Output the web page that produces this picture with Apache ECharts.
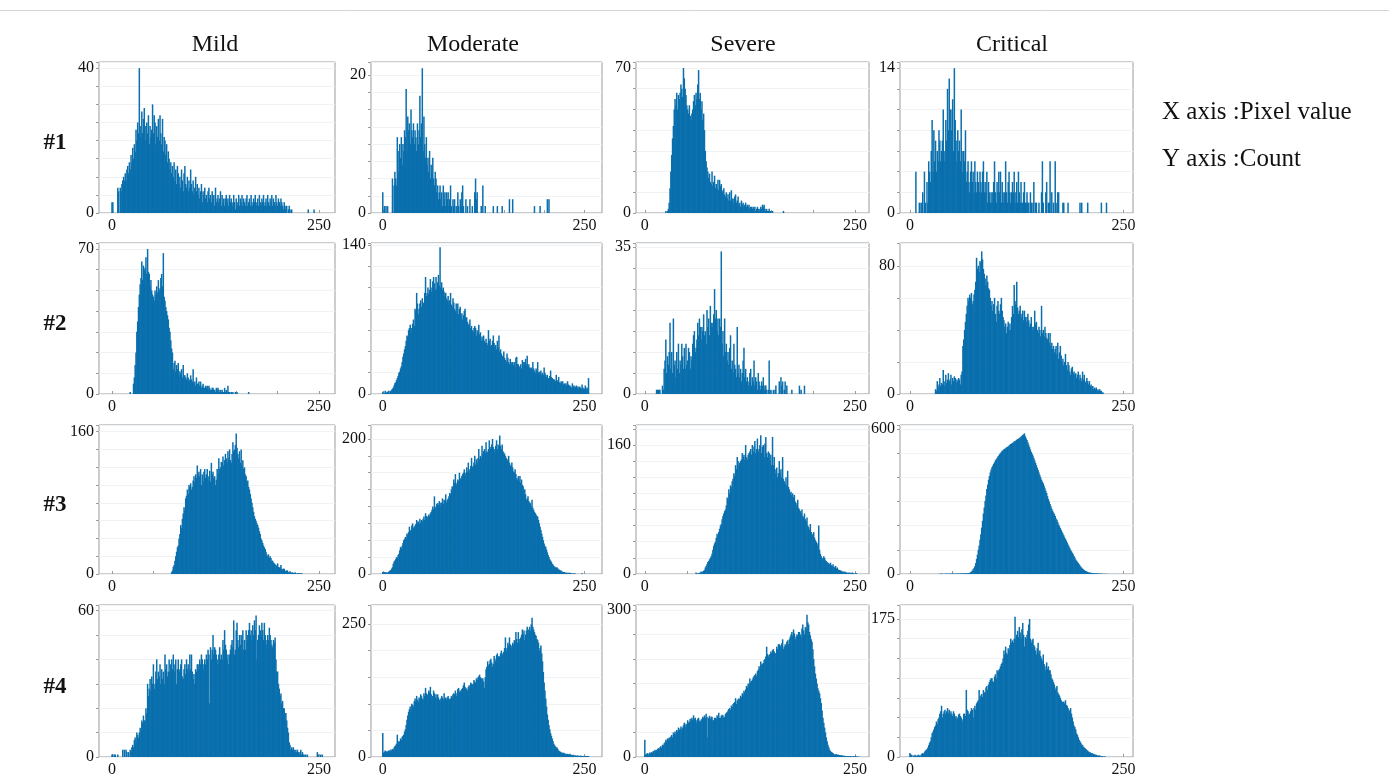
<!DOCTYPE html>
<html><head><meta charset="utf-8">
<script src="https://cdn.jsdelivr.net/npm/echarts@6/dist/echarts.min.js"></script>
<style>html,body{margin:0;padding:0;background:#fff}#c{width:1389px;height:778px}</style>
</head><body><div id="c"></div>
<script>
const columnTitles = ['Mild', 'Moderate', 'Severe', 'Critical'];
const rowLabels = ['#1', '#2', '#3', '#4'];
const axisNotes = ['X axis :Pixel value', 'Y axis :Count'];
const xTickLabels = [0, 250];
const xTickMarks = [0, 50, 100, 150, 200, 250];
const yTopLabels = [[40, 20, 70, 14], [70, 140, 35, 80], [160, 200, 160, 600], [60, 250, 300, 175]];
const yMaxima = [[41.7, 21.9, 72.9, 14.6], [72.9, 141.9, 36, 94.2], [167.5, 220.7, 184.8, 616.6], [62.3, 286, 310, 192.8]];
const yTickSteps = [[5, 2.5, 10, 2], [10, 20, 5, 20], [20, 25, 20, 100], [10, 50, 50, 25]];

// histogram counts, bin 0..255 (bins past the end of an array are empty)
const mild1 = [3,3,0,0,0,0,0,7, 6,0,7,6,8,9,10,9, 11,9,12,13,11,14,12,16, 14,18,15,19,17,23,20,25,
22,40,24,21,28,22,26,29, 24,20,25,22,27,19,24,21, 23,30,22,27,25,19,24,21, 26,20,27,22,19,26,17,21,
20,16,19,14,17,15,12,14, 11,13,10,14,9,12,8,13, 11,8,10,7,12,9,6,11, 13,8,7,10,6,9,7,12,
8,6,9,5,7,10,6,8, 5,7,4,6,8,3,6,5, 7,4,5,3,6,7,4,5, 3,6,4,5,2,7,3,4,
5,3,4,6,2,5,3,4, 2,4,5,3,4,2,5,3, 4,3,2,5,3,1,4,2, 3,5,2,4,3,5,2,4,
3,2,4,5,2,3,4,2, 5,3,2,4,3,5,2,3, 4,2,5,3,2,4,3,5, 2,3,4,2,5,3,2,4,
3,5,2,4,3,2,5,3, 2,4,3,2,4,3,2,1, 3,2,1,2,0,1,2,1, 0,1,0,0,0,0,0,0,
0,0,0,0,0,0,0,0, 0,0,0,0,0,1,0,0, 0,0,0,0,1];
const moderate1 = [3,0,1,0,1,0,1,0, 0,0,0,0,5,0,4,6, 5,4,11,6,9,10,8,11, 7,10,9,12,11,18,9,14,
12,13,10,15,12,11,13,10, 12,11,9,13,10,12,17,11, 13,21,9,14,10,8,11,7, 8,6,9,5,7,6,8,5,
4,6,5,3,4,2,3,4, 2,3,1,4,2,3,1,3, 2,3,1,2,4,1,0,2, 1,2,0,1,0,3,1,0,
2,1,3,4,1,0,0,2, 0,1,0,0,2,0,0,1, 0,0,3,5,2,3,0,0, 0,0,1,0,4,0,0,1,
0,0,0,0,0,0,0,0, 0,1,0,0,0,0,1,0, 0,0,0,0,1,0,0,0, 0,0,0,0,0,2,0,0,
0,2,0,0,0,0,0,0, 0,0,0,0,0,0,0,0, 0,0,0,0,0,0,0,0, 0,0,0,0,1,0,0,0,
0,0,0,1,0,0,0,0, 0,0,0,0,2,0,2];
const severe1 = [0,0,0,0,0,0,0,0, 0,0,0,0,0,0,0,0, 0,0,0,0,0,0,0,0, 0,1,0,1,2,5,12,20,
28,36,42,50,55,52,58,50, 57,55,58,62,60,56,70,65, 60,57,52,50,48,52,47,45, 48,50,54,57,52,58,55,62,
69,55,58,50,54,45,48,40, 30,25,22,20,17,19,15,14, 20,13,15,18,12,14,12,16, 11,16,13,14,10,11,12,9,
8,10,7,9,6,10,6,11, 7,5,7,8,9,5,6,8, 4,5,3,6,4,5,3,4, 5,3,4,3,4,2,3,3,
2,3,2,3,1,2,3,2, 1,2,3,2,4,3,4,2, 1,2,1,1,2,1,1,0, 1,0,0,0,0,0,0,0,
0,0,0,0,0,1];
const critical1 = [0,0,0,0,0,0,0,4, 0,0,0,1,0,1,1,2, 0,4,1,0,3,1,5,4, 3,6,9,4,8,5,7,4,
6,5,8,7,5,6,7,10, 6,5,9,7,12,8,13,10, 10,8,11,6,14,9,7,5, 8,6,7,5,10,6,4,6,
5,8,3,4,5,3,2,4, 5,3,4,2,5,3,2,4, 3,2,4,3,2,4,5,2, 3,2,4,1,3,2,1,2,
1,2,3,5,2,1,3,2, 4,2,4,1,3,2,1,2, 5,2,1,3,4,2,1,2, 3,2,4,1,2,3,1,4,
2,1,3,1,1,2,3,1, 1,2,1,1,0,2,1,0, 1,3,0,1,1,0,0,1, 0,0,2,5,1,0,0,2,
3,0,1,1,5,0,2,0, 1,0,5,1,0,2,2,0, 0,0,0,1,1,0,0,0, 0,1,0,0,0,0,0,0,
0,0,0,0,0,0,0,1, 0,1,0,0,0,0,0,0, 1,0,0,0,0,0,0,0, 0,0,0,0,0,0,0,0,
1,0,0,0,0,0,1];

const mild2 = [0,0,0,0,0,0,0,0, 0,0,0,0,0,0,0,0, 0,0,0,0,0,0,1,0, 0,0,5,8,14,20,30,35,
42,48,53,56,64,55,62,60, 61,66,58,70,59,58,52,55, 50,48,47,45,50,48,52,49, 55,50,51,56,58,52,68,47,
45,42,40,38,36,32,30,26, 22,20,12,15,16,11,14,12, 15,9,11,10,12,8,14,9, 9,8,7,10,8,6,7,9,
7,6,12,5,6,4,8,5, 5,6,4,6,3,4,5,3, 3,4,3,4,2,4,3,2, 2,3,3,2,2,1,3,2,
3,2,1,2,1,2,1,1, 3,1,2,1,4,1,1,0, 1,0,1,0,0,1,0,1, 0,0,0,0,0,0,0,0,
0,0,0,0,0,1];
const moderate2 = [2,0,1,3,2,1,2,3, 1,3,2,4,5,6,8,10, 11,13,15,17,20,21,24,26, 30,35,38,42,45,50,55,54,
60,62,65,58,62,66,70,64, 80,78,95,85,75,80,85,88, 82,90,86,85,95,110,92,95, 100,94,98,108,96,100,106,110,
104,98,110,99,105,112,102,138, 100,105,98,100,96,92,95,90, 88,92,86,88,95,84,82,90, 86,80,78,85,76,85,75,80,
82,72,76,70,74,78,80,72, 72,68,65,66,70,62,64,60, 58,62,64,62,55,60,58,65, 56,58,50,54,52,55,50,48,
52,48,46,60,50,52,45,46, 50,55,48,44,46,42,50,44, 55,40,42,38,36,35,40,34, 32,30,38,34,30,28,33,30,
28,30,27,30,25,34,35,28, 28,26,25,28,24,32,30,27, 30,33,28,36,26,28,25,24, 25,22,30,24,22,20,24,22,
30,20,21,20,22,18,20,18, 25,20,18,16,18,15,14,17, 22,16,15,14,14,13,12,18, 12,13,16,11,10,12,11,12,
9,10,9,10,8,12,9,8, 8,7,6,10,7,8,6,7, 8,6,7,5,7,6,5,9, 6,5,5,8,4,6,5,15];
const severe2 = [0,0,0,0,0,0,0,0, 0,0,0,0,0,0,1,1, 1,1,1,0,0,2,1,6, 8,13,5,9,7,10,17,6,
10,5,18,7,8,4,10,6, 12,5,8,7,12,9,6,11, 6,12,7,8,11,10,6,9, 8,12,14,15,10,11,13,17,
14,18,16,13,16,15,19,14, 15,12,20,16,18,14,21,17, 16,17,19,25,18,20,15,18, 14,18,16,34,12,15,9,18,
10,12,8,10,7,11,14,6, 8,5,12,7,6,4,16,5, 7,4,6,3,5,8,11,4, 6,3,4,2,3,5,6,2,
4,3,8,2,4,3,1,5, 3,2,1,3,2,4,1,2, 2,1,0,1,8,0,1,0, 0,1,0,1,2,0,0,0,
3,0,4,2,3,0,1,3, 0,2,0,0,0,0,0,1, 0,0,0,0,0,0,0,0, 2,0,1,0,0,0,2];
const critical2 = [0,0,0,0,0,0,0,0, 0,0,0,0,0,0,0,0, 0,0,0,0,0,0,0,0, 0,0,0,0,0,0,3,2,
8,4,6,10,5,7,6,15, 8,5,12,7,9,13,8,9, 12,6,10,8,11,10,7,9, 8,10,9,6,12,14,30,34,
40,45,50,55,60,58,62,60, 63,56,58,62,65,70,85,78, 80,76,83,82,89,84,78,75, 72,68,74,70,66,65,60,55,
58,52,56,60,50,45,55,58, 52,50,56,60,52,48,46,42, 44,38,42,45,40,44,40,48, 55,50,68,58,56,70,54,50,
52,55,50,48,52,46,52,48, 45,48,50,46,42,44,48,42, 40,42,52,44,45,40,38,42, 40,36,55,38,40,36,42,38,
35,34,38,32,38,30,32,28, 30,26,28,30,25,32,22,26, 30,24,20,22,18,20,25,18, 15,20,18,14,12,16,17,13,
14,12,13,10,12,14,9,12, 10,8,14,9,12,7,8,10, 8,6,8,5,6,4,5,3, 4,3,4,2,3,2,3,2,
2,1,1];

const mild3 = [0,0,0,0,0,0,0,0, 0,0,0,0,0,0,0,0, 0,0,0,0,0,0,0,0, 0,0,0,0,0,0,0,0,
0,0,0,0,0,0,0,0, 0,0,0,0,0,0,0,0, 0,0,0,0,0,0,0,0, 0,0,0,0,0,0,0,0,
0,0,0,0,0,0,0,0, 2,4,8,10,15,20,25,30, 32,40,45,55,52,62,68,75, 72,85,88,95,90,100,98,102,
95,98,105,110,104,112,108,122, 112,115,110,118,100,112,104,115, 118,108,112,118,105,110,116,104, 125,112,115,108,110,100,106,118,
112,130,118,120,126,125,132,122, 128,135,130,126,138,130,140,128, 125,135,148,138,140,145,158,142, 135,130,138,125,140,122,128,118,
120,112,110,104,105,98,95,90, 85,80,75,70,65,62,60,57, 55,52,48,45,40,38,35,32, 30,28,25,22,20,22,18,20,
18,15,15,13,12,11,10,9, 12,8,7,8,10,6,5,6, 6,4,3,4,4,2,2,3, 2,1,2,1,1,2,1,0,
1,1,0,1,0,1];
const moderate3 = [3,2,3,2,3,1,2,3, 4,5,6,8,10,15,18,20, 22,25,24,28,30,35,40,38, 42,46,50,52,55,54,60,58,
62,70,64,65,72,75,68,70, 72,74,80,76,78,74,82,76, 80,78,82,85,80,90,86,85, 82,88,86,90,92,95,100,96,
115,98,100,104,105,102,108,100, 106,105,112,104,110,108,118,106, 110,112,115,120,118,125,130,128, 140,135,148,132,135,140,138,150,
142,140,145,148,150,155,145,150, 158,152,165,155,150,160,172,158, 160,165,175,162,170,165,172,185, 170,175,172,190,178,182,185,180,
195,182,180,185,198,188,185,192, 200,188,185,180,190,198,185,192, 188,205,190,185,192,182,180,178, 175,172,170,168,175,165,160,162,
165,158,152,150,155,148,142,140, 145,138,145,135,140,132,130,125, 125,118,110,112,115,108,106,105, 100,110,98,95,92,90,88,86,
85,80,75,70,65,60,55,50, 45,42,40,36,32,28,25,22, 20,18,15,14,12,11,10,9, 10,8,7,6,5,5,4,3,
3,3,2,2,2,1,2,1, 2,1,1,0,1,0,1,0, 0,0,0,0,0,0,0,1];
const severe3 = [0,0,0,0,0,0,0,0, 0,0,0,0,0,0,0,0, 0,0,0,0,0,0,0,0, 0,0,0,0,0,0,0,0,
0,0,0,0,0,0,0,0, 0,0,0,0,0,0,0,0, 0,0,0,0,0,0,0,0, 0,0,0,0,0,2,1,0,
1,1,2,3,2,3,4,5, 8,10,12,15,16,18,20,22, 25,30,35,38,40,45,50,48, 52,56,60,62,68,72,75,78,
80,85,95,92,105,100,110,108, 115,118,125,122,135,130,145,140, 135,138,140,142,150,145,148,142, 160,145,142,148,150,152,155,148,
160,152,158,165,150,155,168,152, 155,160,172,150,158,160,145,162, 170,150,145,152,150,140,148,135, 170,135,145,130,125,132,120,125,
140,125,130,120,145,118,115,112, 120,110,128,108,105,100,102,98, 100,95,98,90,88,85,92,82, 80,78,75,80,72,70,75,68,
65,70,60,58,55,62,52,50, 48,52,45,42,40,38,35,60, 30,25,22,20,18,22,20,17, 16,15,14,13,12,14,11,10,
12,9,8,10,7,8,6,5, 5,4,4,3,3,2,3,2, 2,1,2,1,2,1,1,2, 1,1,0,1,1];
const critical3 = [0,0,0,0,0,0,0,0, 0,0,0,0,0,0,0,0, 0,0,0,0,0,0,0,0, 0,0,0,0,0,0,0,0,
0,0,1,0,1,2,1,0, 1,0,2,1,1,0,2,1, 1,2,1,2,1,1,2,2, 1,2,2,1,3,2,2,3,
2,3,3,2,4,4,5,7, 10,14,20,25,32,45,62,80, 100,118,142,165,192,220,250,275, 302,325,352,370,390,405,420,432,
442,448,456,462,470,475,480,486, 490,496,500,505,510,512,516,518, 520,524,526,528,532,535,538,540, 542,545,548,550,552,556,558,560,
562,566,568,572,575,578,582,570, 562,555,545,535,525,515,505,498, 490,480,470,460,450,440,430,420, 410,400,390,382,375,365,355,345,
335,322,310,300,290,280,270,262, 255,248,240,230,225,215,205,198, 190,182,175,168,160,152,145,138, 130,122,115,108,100,94,88,82,
75,68,60,55,50,45,40,35, 30,26,22,19,16,13,12,10, 8,7,6,5,5,4,4,3, 3,2,3,2,2,1,2,1,
1,1,1,0,1,0,1];

const mild4 = [1,1,0,1,1,0,0,1, 0,0,0,0,0,3,0,3, 0,3,2,0,2,0,3,2, 4,5,4,7,8,6,10,9,
8,10,12,11,15,14,17,15, 15,20,18,30,25,28,32,27, 33,30,38,28,30,35,40,32, 35,33,38,30,36,32,35,30,
42,36,38,33,35,40,35,38, 40,36,42,35,38,40,30,36, 40,35,36,38,40,33,32,36, 38,34,40,36,38,35,42,36,
42,35,32,34,30,36,35,38, 38,36,40,38,42,40,38,36, 40,38,42,40,44,42,22,45, 40,44,50,42,45,44,42,40,
38,42,45,40,42,40,48,44, 52,46,44,40,42,38,42,44, 46,48,45,56,42,44,52,55, 48,45,50,46,50,48,52,44,
48,44,52,48,50,52,55,50, 52,48,54,50,56,52,58,40, 48,50,54,52,50,55,52,48, 55,50,48,46,50,48,53,50,
48,46,45,48,47,49,40,35, 35,30,28,25,26,22,23,20, 20,18,18,15,12,10,6,5, 3,4,3,4,3,2,3,2,
3,2,1,2,3,1,2,1, 1,0,1,0,1,0,0,0, 0,0,0,0,0,0,0,0, 2,1,0,0,1,0,1];
const moderate4 = [45,8,10,12,9,11,10,12, 12,10,14,12,15,14,18,20, 22,25,42,28,30,28,35,32, 38,40,42,48,52,60,70,78,
85,90,95,88,100,98,95,105, 110,105,115,108,104,112,110,118, 115,110,108,120,115,130,120,118, 115,125,122,132,118,110,115,125,
120,112,118,110,118,112,108,105, 110,115,112,108,120,110,112,108, 112,115,110,108,110,115,112,118, 120,118,125,115,120,128,130,122,
125,122,128,130,135,140,132,130, 128,125,132,135,130,140,138,136, 138,145,142,140,148,145,150,152, 155,150,148,145,148,142,130,150,
165,170,180,172,175,182,185,178, 170,175,190,185,180,192,195,188, 190,188,195,200,192,195,198,205, 225,200,205,215,210,225,212,205,
210,215,212,220,218,235,222,215, 235,222,215,225,230,240,232,238, 220,230,238,245,232,240,245,238, 250,262,245,240,235,230,228,222,
220,215,200,205,210,195,180,160, 140,125,110,95,80,70,60,52, 45,40,35,30,25,22,20,18, 18,15,12,11,10,9,8,8,
8,7,6,6,5,6,5,5, 6,4,4,3,4,3,3,3, 2,3,3,2,2,3,2,2, 2,2,1,2,2,1,2,2];
const severe4 = [35,4,6,8,5,7,9,8, 10,9,12,11,15,13,14,16, 18,17,20,22,19,25,24,28, 30,35,32,38,36,40,38,42,
45,40,50,48,52,46,55,52, 60,55,58,62,56,60,65,70, 62,68,66,75,70,72,78,74, 80,76,85,78,80,75,70,78,
80,74,72,76,78,82,80,85, 80,88,82,40,80,84,78,82, 82,75,75,80,80,78,85,82, 90,80,80,84,86,85,80,82,
88,90,92,95,98,100,96,105, 102,108,110,112,120,108,115,118, 120,118,125,122,130,128,135,132, 138,145,142,150,148,160,152,155,
158,162,165,168,170,165,175,178, 185,180,195,188,190,192,198,200, 205,225,210,205,208,210,215,212, 218,220,215,210,212,225,220,230,
230,228,225,232,240,220,225,230, 228,235,238,230,240,245,250,255, 248,260,252,240,245,250,248,255, 255,250,245,262,270,258,250,265,
262,290,275,270,255,248,240,235, 220,200,185,170,160,150,140,135, 130,120,110,95,80,70,60,50, 40,32,25,20,15,12,10,9,
8,6,5,5,6,4,5,4, 4,3,4,3,2,3,2,2, 2,1,2,2,1,2,1,1, 1,2,1,2,1,1,0,1];
const critical4 = [5,2,3,0,2,1,3,2, 1,2,3,2,1,3,4,5, 4,6,8,9,10,12,15,18, 20,25,30,32,35,38,40,45,
42,48,50,55,58,65,50,55, 58,60,55,58,62,56,60,54, 58,55,52,58,55,50,52,48, 50,54,55,52,50,48,45,55,
55,52,85,60,58,54,55,58, 62,60,50,62,65,60,68,70, 72,85,75,78,80,76,85,82, 82,88,90,85,92,95,98,100,
100,96,95,102,105,100,110,108, 110,112,115,118,120,125,135,130, 140,132,130,138,135,142,150,145, 148,145,150,178,150,155,160,152,
165,158,150,162,170,155,140,152, 150,155,160,168,175,150,145,148, 150,142,140,135,130,138,145,132, 135,128,125,122,130,118,115,110,
120,112,115,110,110,105,100,98, 95,92,85,88,90,82,80,78, 75,72,70,70,70,68,72,66, 65,62,60,58,62,55,50,45,
40,38,35,30,28,25,22,20, 18,16,15,13,12,11,10,9, 8,7,6,6,5,5,4,4, 3,3,3,2,2,2,2,1,
1,1,1,0,1];

const histograms = [
  [mild1, moderate1, severe1, critical1],
  [mild2, moderate2, severe2, critical2],
  [mild3, moderate3, severe3, critical3],
  [mild4, moderate4, severe4, critical4]
];

// layout (pixels) and axis ranges
const colLeft = [99, 371, 636, 900];
const colWidth = [236, 231, 233, 233];
const colXMin = [-15.7, -14.6, -10.5, -11.6];
const colXMax = [269.3, 271.7, 266.8, 261];
const rowTop = [62, 243, 425, 605];
const rowHeight = [151, 151, 149, 152];
const titleX = [215, 473, 743, 1012];

const FONT = '"Liberation Serif", "Times New Roman", serif';
const BAR = '#0a6fad';
const FRAME = '#9b9b9b';

const grid = [], xAxis = [], yAxis = [], series = [];
for (let r = 0; r < 4; r++) {
  for (let c = 0; c < 4; c++) {
    const k = r * 4 + c;
    grid.push({left: colLeft[c], top: rowTop[r], width: colWidth[c], height: rowHeight[r],
      show: true, borderColor: FRAME, borderWidth: 1, backgroundColor: '#fff', containLabel: false});
    xAxis.push({gridIndex: k, type: 'value', min: colXMin[c], max: colXMax[c],
      axisLine: {show: false, onZero: false}, splitLine: {show: false},
      axisTick: {show: true, inside: true, length: 3, customValues: xTickMarks, lineStyle: {color: FRAME}},
      axisLabel: {customValues: xTickLabels, margin: 5, fontFamily: FONT, fontSize: 16, color: '#111'}});
    yAxis.push({gridIndex: k, type: 'value', min: 0, max: yMaxima[r][c], interval: yTickSteps[r][c],
      axisLine: {show: false, onZero: false},
      axisTick: {show: true, length: 3, lineStyle: {color: FRAME}},
      splitLine: {show: true, lineStyle: {color: '#f0f3f6', width: 1}},
      axisLabel: {customValues: [0, yTopLabels[r][c]], margin: 5, fontFamily: FONT, fontSize: 16, color: '#111'}});
    series.push({type: 'bar', xAxisIndex: k, yAxisIndex: k, barWidth: 1.5,
      data: histograms[r][c].map((v, i) => [i, v]),
      itemStyle: {color: BAR, borderWidth: 0}, silent: true, animation: false});
  }
}

const graphic = [
  {type: 'line', shape: {x1: 0, y1: 10.5, x2: 1389, y2: 10.5}, style: {stroke: '#d4d4d4', lineWidth: 1}}
];
columnTitles.forEach((t, i) => graphic.push({type: 'text', x: titleX[i], y: 45,
  style: {text: t, fontFamily: FONT, fontSize: 24, fill: '#111', align: 'center', verticalAlign: 'middle'}}));
rowLabels.forEach((t, i) => graphic.push({type: 'text', x: 55, y: rowTop[i] + rowHeight[i] / 2 + 6,
  style: {text: t, fontFamily: FONT, fontSize: 23, fontWeight: 'bold', fill: '#111', align: 'center', verticalAlign: 'middle'}}));
axisNotes.forEach((t, i) => graphic.push({type: 'text', x: 1162, y: 112 + i * 47,
  style: {text: t, fontFamily: FONT, fontSize: 25, fill: '#111', align: 'left', verticalAlign: 'middle'}}));

const chart = echarts.init(document.getElementById('c'), null, {renderer: 'canvas'});
chart.setOption({animation: false, backgroundColor: '#fff', grid, xAxis, yAxis, series, graphic});
</script>
</body></html>
